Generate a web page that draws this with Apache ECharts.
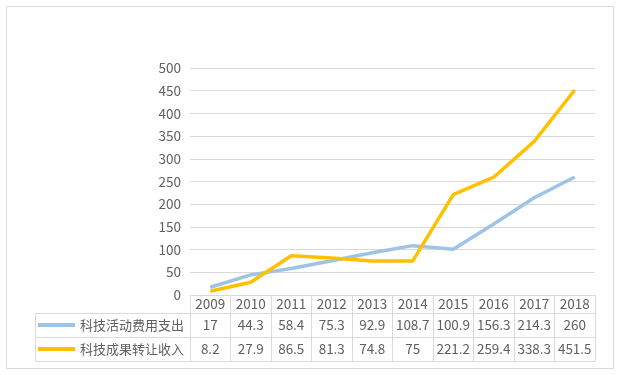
<!DOCTYPE html>
<html><head><meta charset="utf-8">
<script src="https://cdn.jsdelivr.net/npm/echarts@6/dist/echarts.min.js"></script>
<style>html,body{margin:0;padding:0;background:#fff}#c{width:623px;height:375px}</style>
</head><body><div id="c"></div>
<script>
var years = ['2009','2010','2011','2012','2013','2014','2015','2016','2017','2018'];
var seriesNames = ['科技活动费用支出','科技成果转让收入'];
var spending = [17, 44.3, 58.4, 75.3, 92.9, 108.7, 100.9, 156.3, 214.3, 260];
var income = [8.2, 27.9, 86.5, 81.3, 74.8, 75, 221.2, 259.4, 338.3, 451.5];
var yTicks = {min: 0, max: 500, interval: 50};

var FONT = '"Noto Sans CJK SC", "Noto Sans", sans-serif';
var TXT = '#606060';
var LN = '#d9d9d9';
var chart = echarts.init(document.getElementById('c'), null, {renderer: 'canvas'});

function rowAxis(offset, values, showLabel) {
  return {
    type: 'category', data: years, position: 'bottom', offset: offset,
    boundaryGap: true,
    axisLine: {show: true, lineStyle: {color: LN, width: 1}},
    axisTick: {show: false},
    axisLabel: {
      show: showLabel, interval: 0, margin: 12, verticalAlign: 'middle',
      color: TXT, fontSize: 13.5, fontFamily: FONT,
      formatter: function (v, i) { return values ? String(values[i]) : ''; }
    },
    splitLine: {show: false}
  };
}

chart.setOption({
  animation: false,
  backgroundColor: '#fff',
  grid: {left: 190, right: 28, top: 68, bottom: 80, containLabel: false},
  legend: {
    orient: 'vertical', left: 38, top: 317, itemGap: 8, padding: 0,
    itemWidth: 37, itemHeight: 4, icon: 'rect',
    textStyle: {color: TXT, fontSize: 13, fontFamily: FONT, lineHeight: 16},
    data: seriesNames
  },
  xAxis: [
    {
      type: 'category', data: years, position: 'bottom', boundaryGap: true,
      axisLine: {show: true, lineStyle: {color: LN, width: 1}},
      axisTick: {show: true, length: 66, inside: false, interval: 0, lineStyle: {color: LN}},
      axisLabel: {interval: 0, margin: 9, verticalAlign: 'middle', color: TXT, fontSize: 13.5, fontFamily: FONT}
    },
    rowAxis(18, spending, true),
    rowAxis(42, income, true),
    rowAxis(66, null, false)
  ],
  yAxis: {
    type: 'value', min: yTicks.min, max: yTicks.max, interval: yTicks.interval,
    axisLine: {show: false}, axisTick: {show: false},
    axisLabel: {color: TXT, fontSize: 13.5, fontFamily: FONT, margin: 9},
    splitLine: {lineStyle: {color: LN, width: 1}}
  },
  series: [
    {name: seriesNames[0], type: 'line', data: spending, xAxisIndex: 0, showSymbol: false, symbol: 'none',
     lineStyle: {color: '#9DC3E6', width: 3.5}, itemStyle: {color: '#9DC3E6'}, z: 2},
    {name: seriesNames[1], type: 'line', data: income, xAxisIndex: 0, showSymbol: false, symbol: 'none',
     lineStyle: {color: '#FFC000', width: 3.5}, itemStyle: {color: '#FFC000'}, z: 3}
  ],
  graphic: [
    {type: 'rect', shape: {x: 6.5, y: 6.5, width: 607, height: 362}, style: {fill: null, stroke: LN, lineWidth: 1}, z: -1},
    {type: 'line', shape: {x1: 35.5, y1: 313.5, x2: 190, y2: 313.5}, style: {stroke: LN, lineWidth: 1}},
    {type: 'line', shape: {x1: 35.5, y1: 337.5, x2: 190, y2: 337.5}, style: {stroke: LN, lineWidth: 1}},
    {type: 'line', shape: {x1: 35.5, y1: 361.5, x2: 190, y2: 361.5}, style: {stroke: LN, lineWidth: 1}},
    {type: 'line', shape: {x1: 35.5, y1: 313.5, x2: 35.5, y2: 361.5}, style: {stroke: LN, lineWidth: 1}}
  ]
});
</script></body></html>
